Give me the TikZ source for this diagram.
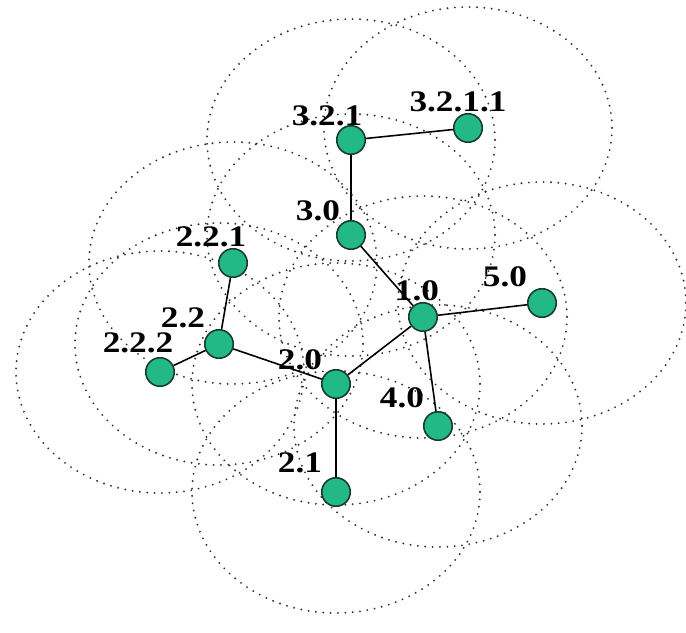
\documentclass[tikz,border=0pt]{standalone}
\usepackage{fontspec}
\newfontfamily\lblfont{Liberation Serif}[FakeStretch=1.18]
\usetikzlibrary{backgrounds}
\definecolor{nodefill}{RGB}{35,185,135}
\definecolor{nodeline}{RGB}{25,60,45}
\begin{document}
\begin{tikzpicture}[x=0.02cm,y=-0.02cm,line join=round,
  sensor/.style={circle,draw=nodeline,fill=nodefill,line width=0.9pt,minimum size=0.57cm,inner sep=0pt},
  lbl/.style={font=\lblfont\fontsize{17}{19}\selectfont\bfseries,inner sep=0pt},
  rangering/.style={draw=black!80,line width=1.2pt,line cap=round,dash pattern=on 0pt off 4.2pt}]
\useasboundingbox (0,0) rectangle (686,632);
\foreach \x/\px/\py in {n321/351/140,n3211/468/128,n30/351/235,n221/233/263,n10/423/317,n50/542/303,
  n22/219/344,n222/160/372,n20/336/384,n40/438/426,n21/336/492}
  \node[sensor] (\x) at (\px,\py) {};
\foreach \x/\dx/\dy/\t in {n321/-24/-24/3.2.1,n3211/-10/-26/3.2.1.1,n30/-33/-24/3.0,n221/-22/-26/2.2.1,
  n10/-6/-26/1.0,n50/-37/-26/5.0,n22/-36/-26/2.2,n222/-22/-29/2.2.2,n20/-36/-24/2.0,n40/-36/-28/4.0,n21/-36/-29/2.1}
  \node[lbl,shift={(\dx,\dy)}] (l\x) at (\x) {\t};
\draw[line width=0.9pt] (n3211)--(n321)--(n30)--(n10)--(n50)
  (n10)--(n40) (n10)--(n20)--(n21)
  (n20)--(n22)--(n221) (n22)--(n222);
\begin{scope}[on background layer]
\foreach \x in {n321,n3211,n30,n221,n10,n50,n22,n222,n20,n40,n21}
  \draw[rangering] (\x) ellipse (144 and 121);
\end{scope}
\end{tikzpicture}
\end{document}
